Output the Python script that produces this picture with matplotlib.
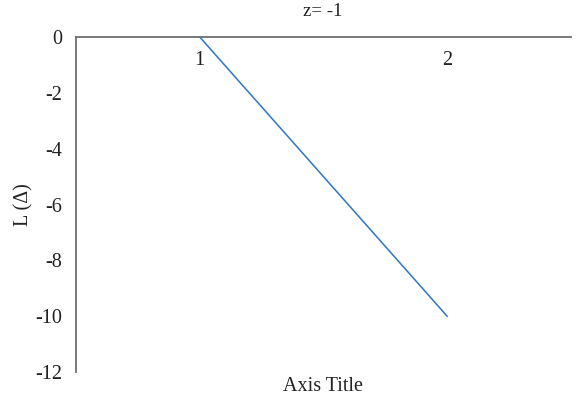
import matplotlib
matplotlib.use("Agg")
import matplotlib.pyplot as plt

categories = ["1", "2"]
values = [0, -10]
yticks = [0, -2, -4, -6, -8, -10, -12]
title = "z= -1"
xlabel = "Axis Title"
ylabel = "L (Δ)"

plt.rcParams['font.family'] = ['Liberation Serif', 'DejaVu Serif']

fig = plt.figure(figsize=(5.76, 4.0), dpi=100)
ax = fig.add_axes([0.132, 0.07, 0.859, 0.8375])

x = list(range(1, len(categories) + 1))
ax.plot(x, values, color='#2e75c4', linewidth=1.1)

ax.set_xlim(0.5, len(categories) + 0.5)
ax.set_ylim(-12, 0)
ax.set_xticks(x)
ax.set_xticklabels(categories)
ax.set_yticks(yticks)
ax.set_yticklabels([str(v) for v in yticks])

for s in ['top', 'right']:
    ax.spines[s].set_visible(False)
ax.spines['bottom'].set_position(('data', 0))
for s in ['bottom', 'left']:
    ax.spines[s].set_color('#6e6e6e')
    ax.spines[s].set_linewidth(1.3)

ax.tick_params(axis='both', length=0, labelsize=14.5, colors='#222222')
ax.tick_params(axis='x', pad=10)
ax.tick_params(axis='y', pad=10)

ax.set_xlabel(xlabel, fontsize=14.5, color='#222222')
ax.xaxis.set_label_coords(0.5, -0.015, transform=ax.transAxes)
ax.xaxis.label.set_va('top')
ax.set_ylabel(ylabel, fontsize=14.5, color='#222222', labelpad=1)

fig.text(0.5605, 0.97, title, ha='center', va='center', fontsize=13.5, color='#222222')

fig.savefig("out.png", dpi=100)
